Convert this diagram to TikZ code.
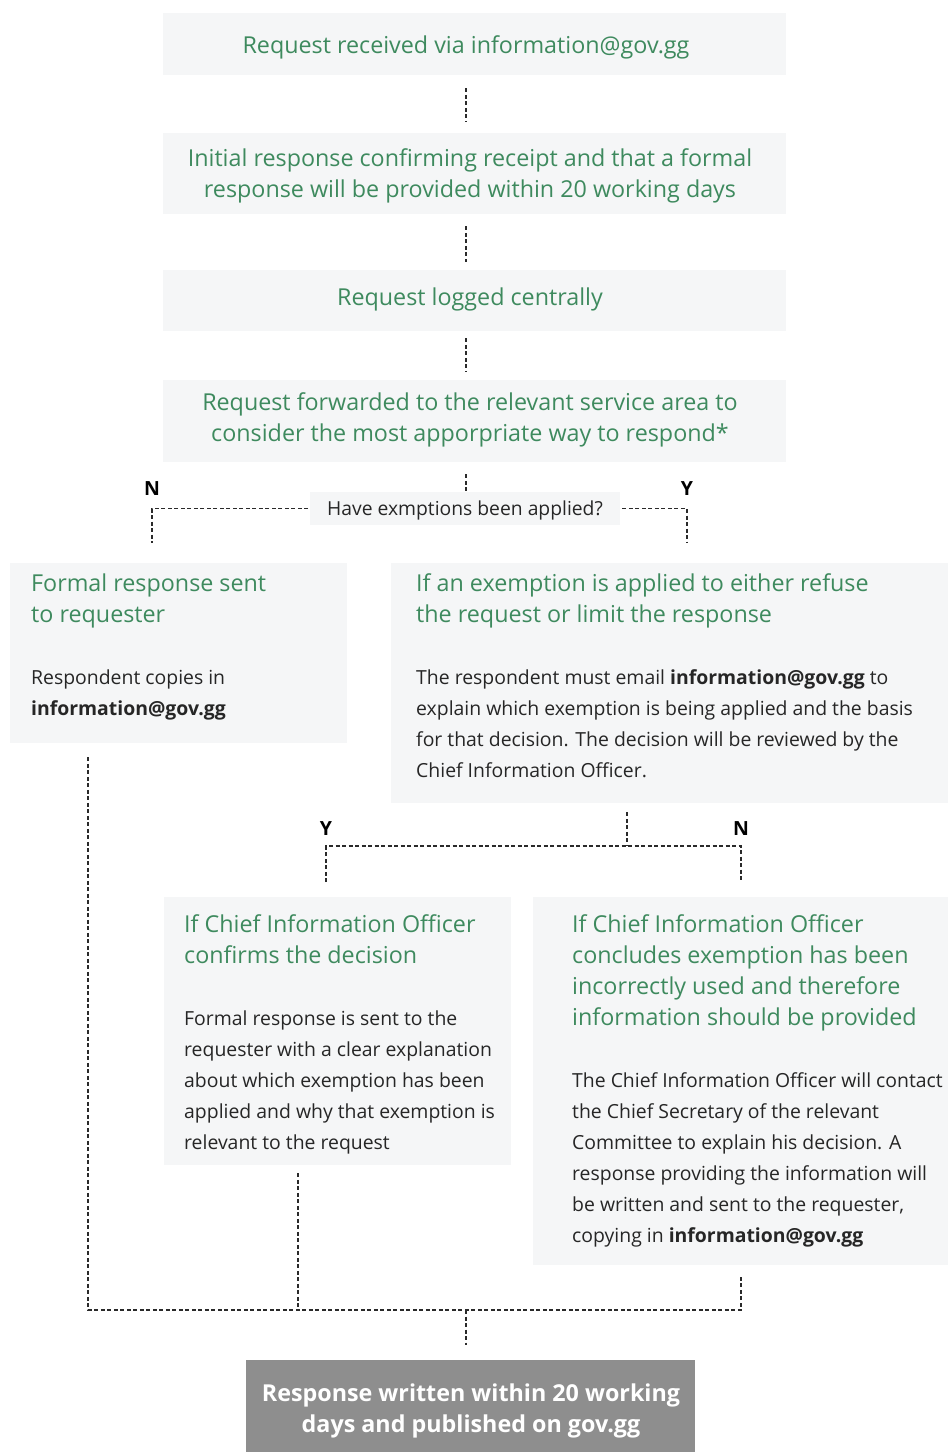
\documentclass[tikz,border=0pt]{standalone}
\usepackage{fontspec}
\setmainfont{Open Sans}
\definecolor{tgreen}{HTML}{3E8A5E}
\definecolor{boxfill}{HTML}{F5F6F7}
\definecolor{finfill}{HTML}{8E8E8E}
\definecolor{lineclr}{HTML}{2A2A2A}
\begin{document}
\begin{tikzpicture}[x=1pt,y=-1pt,
  box/.style={rectangle, fill=boxfill, draw=none, inner sep=0pt, anchor=north west},
  ctitle/.style={text=tgreen, font=\fontsize{23.3}{31}\selectfont, align=center, anchor=base, inner sep=0pt},
  ltitle/.style={text=tgreen, font=\fontsize{23.3}{31}\selectfont, align=left, anchor=base west, inner sep=0pt},
  lbody/.style={text=black!85, font=\fontsize{19.4}{31}\selectfont, align=left, anchor=base west, inner sep=0pt},
  yn/.style={font=\fontsize{19.5}{20}\selectfont\bfseries, anchor=base, inner sep=0pt},
  conn/.style={draw=lineclr, line width=1.3pt, dash pattern=on 4pt off 2.5pt}
]
\useasboundingbox (0,0) rectangle (948,1452);
% reference x positions
\coordinate (xC) at (466,0);
\coordinate (xN1) at (152,0);
\coordinate (xY1) at (687,0);
\coordinate (xS) at (627,0);
\coordinate (xY2) at (326,0);
\coordinate (xN2) at (741,0);
\coordinate (xL) at (88,0);
\coordinate (xM) at (298,0);

% boxes
\node[box, minimum width=623pt, minimum height=62pt] (b1) at (163,13) {};
\node[box, minimum width=623pt, minimum height=81pt] (b2) at (163,133) {};
\node[box, minimum width=623pt, minimum height=61pt] (b3) at (163,270) {};
\node[box, minimum width=623pt, minimum height=82pt] (b4) at (163,380) {};
\node[box, minimum width=310pt, minimum height=33pt] (dec) at (310,492) {};
\node[box, minimum width=337pt, minimum height=180pt] (fl) at (10,563) {};
\node[box, minimum width=557pt, minimum height=240pt] (er) at (391,563) {};
\node[box, minimum width=347pt, minimum height=268pt] (cy) at (164,897) {};
\node[box, minimum width=415pt, minimum height=368pt] (cn) at (533,897) {};
\node[box, fill=finfill, minimum width=449pt, minimum height=92pt] (fin) at (246,1360) {};

% texts (base anchor = baseline of last line)
\node[ctitle] (t1) at (466,53) {Request received via information@gov.gg};
\node[ctitle] (t2) at (470,197) {Initial response confirming receipt and that a formal\\response will be provided within 20 working days};
\node[ctitle] (t3) at (470,305) {Request logged centrally};
\node[ctitle] (t4) at (470,441) {Request forwarded to the relevant service area to\\consider the most apporpriate way to respond*};
\node[text=black!85, font=\fontsize{19.3}{31}\selectfont, anchor=base, inner sep=0pt] (td) at (465,515) {Have exmptions been applied?};

\node[ltitle] (tfl) at (31,622) {Formal response sent\\to requester};
\node[lbody] (bfl) at (31,715) {Respondent copies in\\\textbf{information@gov.gg}};

\node[ltitle] (ter) at (416,622) {If an exemption is applied to either refuse\\the request or limit the response};
\node[lbody] (ber) at (416,777) {The respondent must email \textbf{information@gov.gg} to\\explain which exemption is being applied and the basis\\for that decision. The decision will be reviewed by the\\Chief Information Officer.};

\node[ltitle] (tcy) at (184,963) {If Chief Information Officer\\confirms the decision};
\node[lbody] (bcy) at (184,1149) {Formal response is sent to the\\requester with a clear explanation\\about which exemption has been\\applied and why that exemption is\\relevant to the request};

\node[ltitle] (tcn) at (572,1025) {If Chief Information Officer\\concludes exemption has been\\incorrectly used and therefore\\information should be provided};
\node[lbody] (bcn) at (572,1242) {The Chief Information Officer will contact\\the Chief Secretary of the relevant\\Committee to explain his decision. A\\response providing the information will\\be written and sent to the requester,\\copying in \textbf{information@gov.gg}};

\node[text=white, font=\fontsize{23.3}{31}\selectfont\bfseries, align=center, anchor=base, inner sep=0pt] (tfin) at (471,1432) {Response written within 20 working\\days and published on gov.gg};

% labels
\node[yn] (lN1) at (152,495) {N};
\node[yn] (lY1) at (687,495) {Y};
\node[yn] (lY2) at (326,835) {Y};
\node[yn] (lN2) at (741,835) {N};

% connectors
\draw[conn, shorten <=13pt, shorten >=11pt] (b1.south -| xC) -- (b2.north -| xC);
\draw[conn, shorten <=12pt, shorten >=8pt] (b2.south -| xC) -- (b3.north -| xC);
\draw[conn, shorten <=7pt, shorten >=8pt] (b3.south -| xC) -- (b4.north -| xC);
\draw[conn, shorten <=12pt] (b4.south -| xC) -- (dec.north -| xC);
\draw[conn, shorten <=2pt, shorten >=20pt] (dec.west) -| (fl.north -| xN1);
\draw[conn, shorten <=2pt, shorten >=20pt] (dec.east) -| (er.north -| xY1);

\coordinate (split) at (627,846);
\draw[conn, shorten <=9pt] (er.south -| xS) -- (split);
\draw[conn, shorten <=15pt] (cy.north -| xY2) -- (split -| xY2) -- (split -| xN2) -- ([yshift=15pt]cn.north -| xN2);

\coordinate (merge) at (466,1310);
\draw[conn, shorten <=14pt, shorten >=10pt] (fl.south -| xL) -- (merge -| xL) -- (merge -| xN2) -- (cn.south -| xN2);
\draw[conn, shorten <=8pt] (cy.south -| xM) -- (merge -| xM);
\draw[conn, shorten >=15pt] (merge) -- (fin.north -| xC);
\end{tikzpicture}
\end{document}
